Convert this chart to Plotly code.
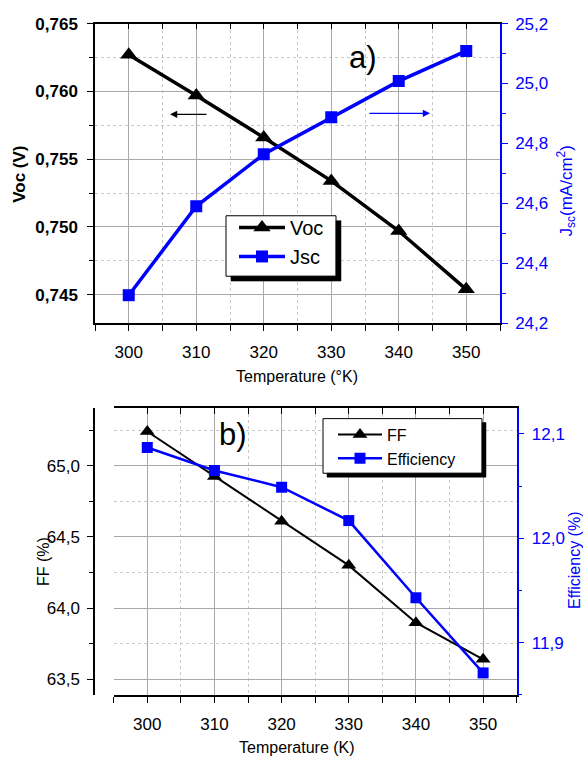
import plotly.graph_objects as go

# Temperature sweep (K)
temperature = [300, 310, 320, 330, 340, 350]

# Panel a): open-circuit voltage and short-circuit current density
voc = [0.7627, 0.7597, 0.7566, 0.7534, 0.7497, 0.7454]
jsc = [24.293, 24.590, 24.764, 24.887, 25.008, 25.109]

# Panel b): fill factor and efficiency
ff = [65.24, 64.925, 64.61, 64.30, 63.897, 63.64]
efficiency = [12.087, 12.065, 12.049, 12.017, 11.943, 11.871]

W, H = 583, 769
FONT = "Liberation Sans, Arial, sans-serif"
BLUE = "#0000ff"
GRID = "#a8a8a8"
MINOR_GRID = "#c8c8c8"


def px(x):
    return x / W


def py(y):
    return 1 - y / H


fig = go.Figure()

# ---- panel a) ----
fig.add_trace(go.Scatter(
    x=temperature, y=voc, name="Voc", mode="lines+markers",
    line=dict(color="black", width=3.5),
    marker=dict(symbol="triangle-up", size=15, color="black"),
    xaxis="x", yaxis="y", legend="legend"))
fig.add_trace(go.Scatter(
    x=temperature, y=jsc, name="Jsc", mode="lines+markers",
    line=dict(color=BLUE, width=3.5),
    marker=dict(symbol="square", size=12, color=BLUE),
    xaxis="x", yaxis="y2", legend="legend"))

# ---- panel b) ----
fig.add_trace(go.Scatter(
    x=temperature, y=ff, name="FF", mode="lines+markers",
    line=dict(color="black", width=2),
    marker=dict(symbol="triangle-up", size=13, color="black"),
    xaxis="x2", yaxis="y3", legend="legend2"))
fig.add_trace(go.Scatter(
    x=temperature, y=efficiency, name="Efficiency", mode="lines+markers",
    line=dict(color=BLUE, width=2.5),
    marker=dict(symbol="square", size=11, color=BLUE),
    xaxis="x2", yaxis="y4", legend="legend2"))

# empty traces so the top frame axes get drawn
fig.add_trace(go.Scatter(x=[None], y=[None], xaxis="x3", yaxis="y",
                         showlegend=False, hoverinfo="skip"))
fig.add_trace(go.Scatter(x=[None], y=[None], xaxis="x4", yaxis="y3",
                         showlegend=False, hoverinfo="skip"))

tick_font = dict(family=FONT, size=17, color="black")
blue_tick_font = dict(family=FONT, size=17, color=BLUE)

x_common = dict(
    range=[295, 355], tick0=300, dtick=10, tickformat="d",
    ticks="outside", ticklen=6, tickwidth=1.2, tickcolor="black",
    showline=True, linecolor="black", linewidth=1.5,
    showgrid=True, gridcolor=GRID, gridwidth=1.3,
    minor=dict(dtick=5, tick0=300, ticks="outside", ticklen=6, tickcolor="black",
               showgrid=True, gridcolor=MINOR_GRID, griddash="dot", gridwidth=1),
    tickfont=tick_font, zeroline=False, ticklabelstandoff=7,
)
x_top = dict(
    range=[295, 355], tick0=300, dtick=5, side="top",
    ticks="inside", ticklen=6, tickcolor="black", showticklabels=False,
    showline=True, linecolor="black", linewidth=1.5, showgrid=False, zeroline=False,
)

legend_common = dict(
    xanchor="left", yanchor="top", bgcolor="rgba(255,255,255,0)",
    borderwidth=0, tracegroupgap=0,
)

fig.update_layout(
    width=W, height=H, margin=dict(l=0, r=0, t=0, b=0),
    paper_bgcolor="white", plot_bgcolor="white",
    separators=", ",
    font=dict(family=FONT, color="black"),
    xaxis=dict(domain=[px(95), px(500)], anchor="y", **x_common),
    xaxis3=dict(overlaying="x", anchor="y", **x_top),
    yaxis=dict(
        domain=[py(322), py(15)], range=[0.742914, 0.765],
        tick0=0.745, dtick=0.005, tickformat=".3f",
        ticks="outside", ticklen=6, tickwidth=1.2, tickcolor="black",
        showline=True, linecolor="black", linewidth=1.5,
        showgrid=True, gridcolor=GRID, gridwidth=1.3, zeroline=False,
        minor=dict(dtick=0.0025, tick0=0.745, ticks="outside", ticklen=4,
                   tickcolor="black", showgrid=True, gridcolor=MINOR_GRID,
                   griddash="dot", gridwidth=1),
        tickfont=dict(family=FONT, size=17, color="black", weight=700),
        ticklabelstandoff=6,
    ),
    yaxis2=dict(
        overlaying="y", side="right", anchor="x", range=[24.2, 25.2],
        tick0=24.2, dtick=0.2, tickformat=".1f",
        ticks="outside", ticklen=6, tickwidth=1.2, tickcolor=BLUE,
        showline=True, linecolor=BLUE, linewidth=1.5, showgrid=False, zeroline=False,
        minor=dict(dtick=0.1, tick0=24.2, ticks="outside", ticklen=4, tickcolor=BLUE),
        tickfont=blue_tick_font, ticklabelstandoff=4,
    ),
    xaxis2=dict(domain=[px(113.7), px(516.7)], anchor="y3", **x_common),
    xaxis4=dict(overlaying="x2", anchor="y3", **x_top),
    yaxis3=dict(
        domain=[py(703.3), py(409.3)], range=[63.390, 65.404],
        tick0=63.5, dtick=0.5, tickformat=".1f",
        ticks="outside", ticklen=6, tickwidth=1.2, tickcolor="black",
        showline=True, linecolor="black", linewidth=1.5,
        showgrid=True, gridcolor=GRID, gridwidth=1.3, zeroline=False,
        minor=dict(dtick=0.25, tick0=63.5, ticks="outside", ticklen=4,
                   tickcolor="black", showgrid=True, gridcolor=MINOR_GRID,
                   griddash="dot", gridwidth=1),
        tickfont=tick_font, ticklabelstandoff=4,
    ),
    yaxis4=dict(
        overlaying="y3", side="right", anchor="x2", range=[11.8499, 12.1247],
        tick0=11.9, dtick=0.1, tickformat=".1f",
        ticks="outside", ticklen=6, tickwidth=1.2, tickcolor=BLUE,
        showline=True, linecolor=BLUE, linewidth=1.5, showgrid=False, zeroline=False,
        minor=dict(dtick=0.05, tick0=11.9, ticks="outside", ticklen=4, tickcolor=BLUE),
        tickfont=blue_tick_font, ticklabelstandoff=4,
    ),
    legend=dict(
        x=px(234), y=py(204), itemwidth=46,
        font=dict(family=FONT, size=20, color="black"), **legend_common,
    ),
    legend2=dict(
        x=px(333), y=py(419), itemwidth=44,
        font=dict(family=FONT, size=16, color="black"), **legend_common,
    ),
    showlegend=True,
)


def path_px(points):
    """SVG path in paper units from a list of pixel points."""
    return "M " + " L ".join(f"{px(x):.5f},{py(y):.5f}" for x, y in points) + " Z"


# legend frames: white box with an L-shaped drop shadow on its right and bottom
legend_boxes = [((226, 212, 336, 274), 5), ((323, 420, 482, 476), 4)]
for (bx0, by0, bx1, by1), off in legend_boxes:
    fig.add_shape(type="rect", xref="paper", yref="paper",
                  x0=px(bx0), x1=px(bx1), y0=py(by1), y1=py(by0),
                  fillcolor="white", line=dict(color="black", width=1), layer="above")
    shadow = [(bx1, by0 + off), (bx1 + off, by0 + off), (bx1 + off, by1 + off),
              (bx0 + off, by1 + off), (bx0 + off, by1), (bx1, by1)]
    fig.add_shape(type="path", xref="paper", yref="paper", path=path_px(shadow),
                  fillcolor="black", line=dict(color="black", width=0.5), layer="above")

annotations = [
    # axis titles
    dict(text="<b>Voc (V)</b>", x=px(20), y=py(170), textangle=-90,
         font=dict(size=17, color="black")),
    dict(text="J<sub>sc</sub>(mA/cm<sup>2</sup>)", x=px(566), y=py(187), textangle=-90,
         font=dict(size=17, color=BLUE)),
    dict(text="Temperature (°K)", x=px(297), y=py(377),
         font=dict(size=16, color="black")),
    dict(text="FF (%)", x=px(44), y=py(567), textangle=-90,
         font=dict(size=16, color="black")),
    dict(text="Efficiency (%)", x=px(574), y=py(565), textangle=-90,
         font=dict(size=16, color=BLUE)),
    dict(text="Temperature (K)", x=px(297), y=py(757),
         font=dict(size=16, color="black")),
    # panel labels
    dict(text="a)", x=px(363), y=py(50), font=dict(size=31, color="black")),
    dict(text="b)", x=px(233), y=py(436), font=dict(size=31, color="black")),
]
for a in annotations:
    fig.add_annotation(xref="paper", yref="paper", showarrow=False,
                       xanchor="center", yanchor="middle", **a)

# arrows pointing each curve to its axis
fig.add_annotation(xref="paper", yref="paper", x=px(170), y=py(108),
                   ax=38, ay=0, text="", showarrow=True, arrowhead=2,
                   arrowsize=1.2, arrowwidth=1.2, arrowcolor="black")
fig.add_annotation(xref="paper", yref="paper", x=px(430), y=py(107),
                   ax=-62, ay=0, text="", showarrow=True, arrowhead=2,
                   arrowsize=1.2, arrowwidth=1.2, arrowcolor=BLUE)

fig.write_html("out.html")
